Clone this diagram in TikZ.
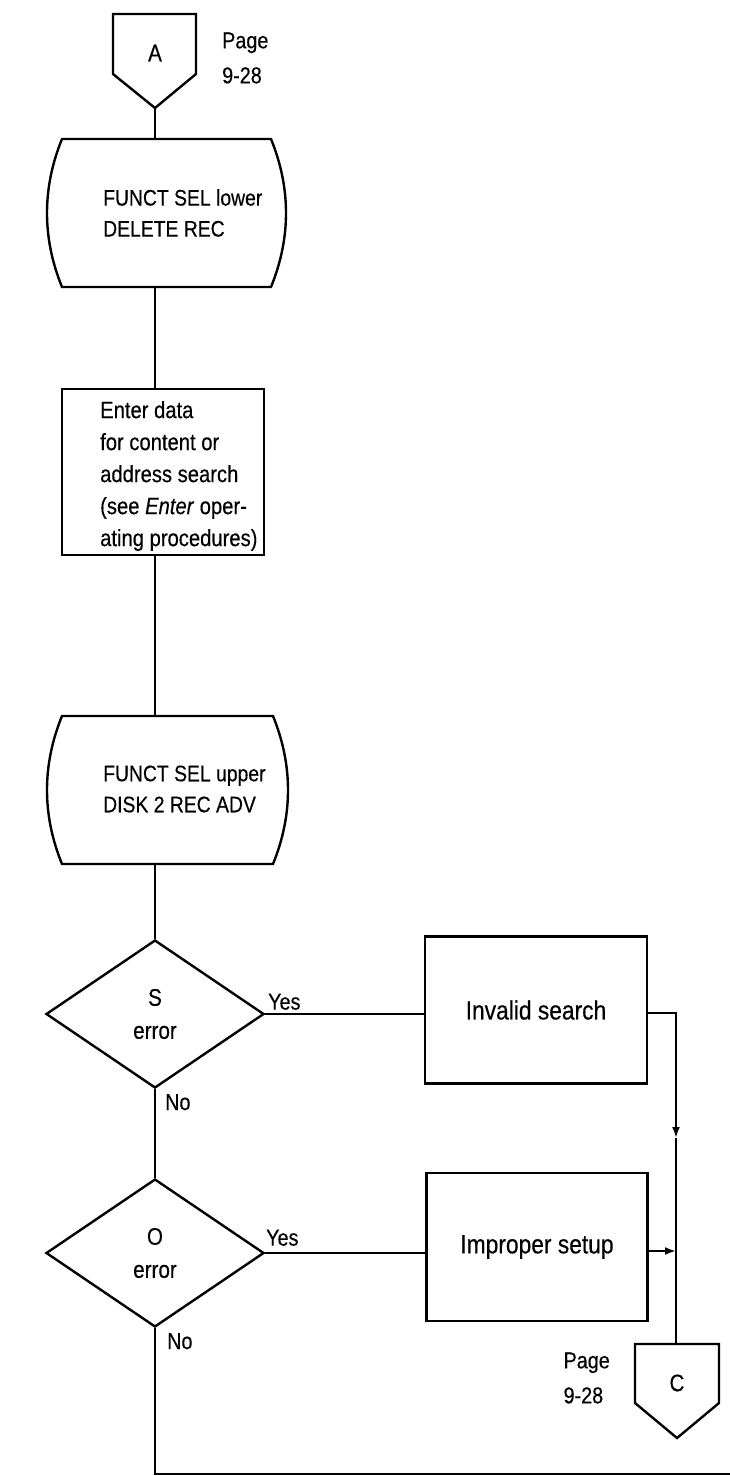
\documentclass[tikz,border=0pt]{standalone}
\usepackage{fontspec}
\setmainfont[FakeStretch=0.86,FakeBold=0.35]{Liberation Sans}
\usetikzlibrary{shapes.geometric,arrows.meta}
\begin{document}
\begin{tikzpicture}[x=1pt,y=-1pt,
  shp/.style={draw, line width=2.4pt, line join=miter},
  conn/.style={line width=2.4pt},
  arr/.style={line width=2.4pt, -{Latex[length=11pt,width=8pt]}},
  boxtxt/.style={font=\fontsize{22.5}{31}\selectfont, align=left, inner sep=0pt, anchor=west},
  entxt/.style={font=\fontsize{23.5}{32}\selectfont, align=left, inner sep=0pt, anchor=west},
  procbox/.style={draw, line width=2.4pt, inner sep=0pt, font=\fontsize{26.5}{30}\selectfont},
  dec/.style={draw, shape=diamond, line width=2.4pt, inner sep=0pt, minimum width=218pt, minimum height=148pt, aspect=1.47, align=center, font=\fontsize{24}{33}\selectfont},
  lbl/.style={inner sep=0pt, font=\fontsize{23}{35}\selectfont, align=left},
  conlbl/.style={inner sep=0pt, font=\fontsize{24}{28}\selectfont}
]
\useasboundingbox (0,0) rectangle (730,1476);
\fill[white] (0,0) rectangle (730,1476);

% connector A
\draw[shp] (113,14) -- (196,14) -- (196,74) -- (155,108) -- (113,74) -- cycle;
\node[conlbl] (cA) at (155,53) {A};
\coordinate (cAtip) at (155,108);
\node[lbl, anchor=west] (pA) at (222,58) {Page\\9-28};

% display 1
\draw[shp] (62,139) -- (271,139) .. controls (291,188) and (291,238) .. (271,287) -- (62,287) .. controls (42,238) and (42,188) .. (62,139) -- cycle;
\node[boxtxt] (t1) at (103,213) {FUNCT SEL lower\\DELETE REC};
\coordinate (b1n) at (155,139);
\coordinate (b1s) at (155,287);

% process box 2
\node[procbox, minimum width=202pt, minimum height=166pt] (b2) at (163,472) {};
\node[entxt] (t2) at (100,476) {Enter data\\for content or\\address search\\(see \textit{Enter} oper-\\ating procedures)};
\coordinate (b2n) at (155,389);
\coordinate (b2s) at (155,555);

% display 3
\draw[shp] (62,716) -- (273,716) .. controls (293,765) and (293,815) .. (273,864) -- (62,864) .. controls (42,815) and (42,765) .. (62,716) -- cycle;
\node[boxtxt] (t3) at (103,789) {FUNCT SEL upper\\DISK 2 REC ADV};
\coordinate (b3n) at (155,716);
\coordinate (b3s) at (155,864);

% decisions
\node[dec] (d1) at (155,1014) {S\\error};
\node[dec] (d2) at (155,1253) {O\\error};

% process boxes right
\node[procbox, minimum width=222pt, minimum height=147pt] (is) at (536,1010) {Invalid search};
\node[procbox, minimum width=221pt, minimum height=148pt] (ip) at (537,1247) {Improper setup};

% connector C
\draw[shp] (635,1344) -- (719,1344) -- (719,1403) -- (677,1438) -- (635,1403) -- cycle;
\node[conlbl] (cC) at (677,1383) {C};
\coordinate (cCtop) at (676,1344);
\node[lbl, anchor=east] (pC) at (610,1378) {Page\\9-28};

% labels
\node[lbl, anchor=south west] (y1) at (268,1010) {Yes};
\node[lbl, anchor=north west] (n1) at (165,1094) {No};
\node[lbl, anchor=south west] (y2) at (266,1246) {Yes};
\node[lbl, anchor=north west] (n2) at (167,1333) {No};

% connectors
\coordinate (j1) at (676,1013);
\coordinate (m1) at (676,1138);
\coordinate (j2) at (676,1251);
\coordinate (bl) at (155,1474);
\coordinate (br) at (735,1474);

\draw[conn] (cAtip) -- (b1n);
\draw[conn] (b1s) -- (b2n);
\draw[conn] (b2s) -- (b3n);
\draw[conn] (b3s) -- (d1.north);
\draw[conn] (d1.east) -- (is.west |- d1.east);
\draw[conn] (d1.south) -- (d2.north);
\draw[conn] (d2.east) -- (ip.west |- d2.east);
\draw[arr] (is.east |- j1) -- (j1) -- (m1);
\draw[conn] (m1) -- (cCtop);
\draw[arr] (ip.east |- j2) -- (j2);
\draw[conn] (d2.south) -- (bl) -- (br);
\end{tikzpicture}
\end{document}
